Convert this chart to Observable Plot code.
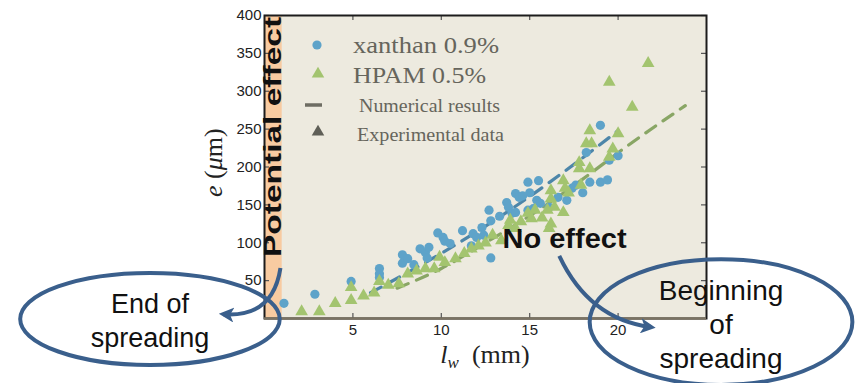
<!DOCTYPE html>
<html>
<head>
<meta charset="utf-8">
<script src="https://cdn.jsdelivr.net/npm/d3@7"></script>
<script src="https://cdn.jsdelivr.net/npm/@observablehq/plot@0.6"></script>
<style>
  body { margin: 0; background: #ffffff; }
  #chart { width: 859px; height: 383px; overflow: hidden; }
</style>
</head>
<body>
<div id="chart"></div>
<script>
// ---------------- data ----------------
const xanthanLw = [1.1, 2.85, 4.9, 6.5, 6.5, 6.5, 7.8, 7.8, 8.1, 8.45,
  8.8, 9.1, 9.3, 9.2, 9.8, 10.1, 10.2, 10.5, 11.2, 11.8, 11.7, 12.0, 12.3, 12.7, 12.8, 12.8, 12.4,
  13.7, 13.8, 14.2, 14.4, 14.0, 14.2, 14.9, 15.0, 15.2, 15.4,
  19.0, 18.2, 20.0, 19.5, 15.5, 17.6, 18.0, 18.4, 19.0, 19.4, 17.1, 17.4, 14.6, 15.6, 14.9, 16.1, 13.3, 16.6];
const xanthanE = [20, 32, 49, 66, 59, 54, 84, 73, 79, 71,
  92, 87, 94, 80, 113, 107, 102, 99, 116, 112, 96, 107, 120, 143, 129, 80, 110,
  153, 147, 165, 160, 139, 140, 180, 166, 145, 156,
  255, 219, 215, 209, 182, 176, 166, 180, 180, 183, 156, 172, 162, 152, 143, 147, 135, 160];

const hpamLw = [2.1, 3.1, 4.0, 4.9, 4.9, 5.6, 6.2, 6.5, 7.0, 7.6, 8.1,
  8.6, 9.1, 9.6, 9.9, 10.2, 10.8, 11.3, 11.7, 12.1, 12.5, 12.9, 13.4, 13.8, 14.2, 14.9, 15.3,
  18.4, 18.2, 18.5, 20.0, 17.8, 17.8, 18.4, 19.5, 19.7, 16.9, 17.0, 17.9, 17.2, 16.2, 16.2, 16.4, 16.9, 16.0,
  15.1, 15.7, 16.2, 16.1, 21.7, 19.5, 20.8, 14.5, 13.9];
const hpamE = [9, 9, 20, 24, 41, 30, 34, 49, 44, 46, 59,
  63, 66, 66, 81, 74, 79, 86, 92, 96, 100, 110, 103, 123, 119, 139, 143,
  248, 231, 231, 244, 206, 198, 198, 213, 224, 182, 172, 176, 166, 169, 158, 147, 140, 143,
  132, 133, 125, 119, 337, 312, 279, 128, 130];

const numXanthanLw = [6.0, 8.5, 11.0, 14.0, 16.9, 20.0];
const numXanthanE  = [34, 66, 100, 145, 193, 248];
const numHpamLw = [7.5, 10.0, 12.5, 15.3, 18.0, 20.3, 23.8];
const numHpamE  = [40, 66, 100, 140, 184, 224, 281];

const bandLw = [0, 1];          // "Potential effect" zone
const xTicks = [5, 10, 15, 20];
const yTicks = [50, 100, 150, 200, 250, 300, 350, 400];

const legendLabels = ["xanthan 0.9%", "HPAM 0.5%", "Numerical results", "Experimental data"];

// annotation anchors (data units)
const endNote   = {lw: -6.45, e: -1.3, rLw: 7.34, rE: 60.7, lines: ["End of", "spreading"]};
const beginNote = {lw: 25.85, e: -5.3, rLw: 7.43, rE: 83,   lines: ["Beginning", "of", "spreading"]};

// ---------------- chart ----------------
const blue = "#5ea3c9", green = "#a3c46f";
const blueDash = "#4d86a9", greenDash = "#89a665";
const W = 859, H = 383, mL = 264, mR = 153, mT = 15, mB = 65;
const pw = W - mL - mR, ph = H - mT - mB;

const xan = xanthanLw.map((d, i) => ({lw: d, e: xanthanE[i]}));
const hp  = hpamLw.map((d, i) => ({lw: d, e: hpamE[i]}));
const nx  = numXanthanLw.map((d, i) => ({lw: d, e: numXanthanE[i]}));
const nh  = numHpamLw.map((d, i) => ({lw: d, e: numHpamE[i]}));

const plot = Plot.plot({
  width: W, height: H,
  marginLeft: mL, marginRight: mR, marginTop: mT, marginBottom: mB,
  x: {domain: [0, 25]},
  y: {domain: [0, 400]},
  style: {fontFamily: "'Liberation Sans', Arial, sans-serif", fontSize: "15px", color: "#222", background: "transparent"},
  marks: [
    Plot.frame({fill: "#edeadf", stroke: null}),
    Plot.rect([{x1: bandLw[0], x2: bandLw[1]}], {x1: "x1", x2: "x2", y1: 0, y2: 400, fill: "#f8cba1"}),
    Plot.line(nx, {x: "lw", y: "e", stroke: blueDash, strokeWidth: 3.2, strokeDasharray: "12,9", curve: "monotone-x"}),
    Plot.line(nh, {x: "lw", y: "e", stroke: greenDash, strokeWidth: 3.2, strokeDasharray: "12,9", curve: "monotone-x"}),
    Plot.dot(xan, {x: "lw", y: "e", r: 4.6, fill: blue, stroke: null}),
    Plot.dot(hp, {x: "lw", y: "e", r: 4.7, symbol: "triangle", fill: green, stroke: null}),
    Plot.tickY(yTicks, {insetRight: pw - 5, stroke: "#555", strokeWidth: 1.2}),
    Plot.tickY(yTicks, {insetLeft: pw - 5, stroke: "#555", strokeWidth: 1.2}),
    Plot.tickX(xTicks, {insetBottom: ph - 5, stroke: "#555", strokeWidth: 1.2}),
    Plot.tickX(xTicks, {insetTop: ph - 5, stroke: "#555", strokeWidth: 1.2}),
    Plot.frame({stroke: "#1c1c1c", strokeWidth: 2}),
    Plot.ruleY([0], {stroke: "#7b7363", strokeWidth: 2.6}),
    Plot.axisY(yTicks, {tickSize: 0, tickPadding: 3, label: null, fontSize: 15}),
    Plot.axisX(xTicks, {tickSize: 0, tickPadding: 6, label: null, fontSize: 15})
  ]
});
document.getElementById("chart").appendChild(plot);

// ---------------- overlay: labels, legend, annotations ----------------
const sx = plot.scale("x"), sy = plot.scale("y");
const X = v => sx.apply(v), Y = v => sy.apply(v);
const svg = d3.select(plot);
const g = svg.append("g");
const serif = "'Liberation Serif', 'Times New Roman', serif";
const sans = "'Liberation Sans', Arial, sans-serif";
const ink = "#3a5f8c";

// axis labels
const xl = g.append("text").attr("x", X(12.5)).attr("y", H - 20).attr("text-anchor", "middle")
  .attr("font-family", serif).attr("font-size", 26).attr("fill", "#222");
xl.append("tspan").attr("font-style", "italic").text("l");
xl.append("tspan").attr("font-style", "italic").attr("font-size", 17).attr("dy", 5).text("w");
xl.append("tspan").attr("dy", -5).text("\u2002(mm)");

const yl = g.append("text").attr("transform", `translate(${X(0) - 42},${Y(205)}) rotate(-90)`)
  .attr("text-anchor", "middle").attr("font-family", serif).attr("font-size", 26).attr("fill", "#222");
yl.append("tspan").attr("font-style", "italic").text("e");
yl.append("tspan").text(" (");
yl.append("tspan").attr("font-style", "italic").text("\u03bc");
yl.append("tspan").text("m)");

// potential effect label
g.append("text").attr("transform", `translate(${X(0.5) + 8},${Y(239)}) rotate(-90)`)
  .attr("text-anchor", "middle").attr("font-family", sans).attr("font-weight", "bold")
  .attr("font-size", 23).attr("fill", "#111")
  .attr("textLength", 240).attr("lengthAdjust", "spacingAndGlyphs").text("Potential effect");

// legend (anchored to frame top-left)
const lx = X(0), ly = Y(400);
const lg = g.append("g").attr("transform", `translate(${lx},${ly})`);
lg.append("circle").attr("cx", 53).attr("cy", 30).attr("r", 4.6).attr("fill", blue);
lg.append("path").attr("d", d3.symbol(d3.symbolTriangle, 68)()).attr("transform", "translate(54,59)").attr("fill", green);
lg.append("line").attr("x1", 41).attr("x2", 58).attr("y1", 90).attr("y2", 90).attr("stroke", "#6e6d63").attr("stroke-width", 3.5);
lg.append("path").attr("d", d3.symbol(d3.symbolTriangle, 68)()).attr("transform", "translate(54,117)").attr("fill", "#5f5f57");
const legendY = [30, 60, 91, 120], legendX = [89, 89, 95, 93], legendFS = [24, 24, 18, 18];
const legendLen = [146, 133, 141, 147];
legendLabels.forEach((t, i) => {
  lg.append("text").attr("x", legendX[i]).attr("y", legendY[i]).attr("dy", "0.35em").attr("text-anchor", "start")
    .attr("font-family", serif).attr("font-size", legendFS[i]).attr("fill", "#66655c")
    .attr("textLength", legendLen[i]).attr("lengthAdjust", "spacingAndGlyphs").text(t);
});

// no effect
g.append("text").attr("x", X(17)).attr("y", Y(92)).attr("text-anchor", "middle")
  .attr("font-family", sans).attr("font-weight", "bold").attr("font-size", 27).attr("fill", "#111")
  .attr("textLength", 124).attr("lengthAdjust", "spacingAndGlyphs").text("No effect");

// arrow marker
const defs = svg.append("defs");
defs.append("marker").attr("id", "ah").attr("viewBox", "0 0 10 10").attr("refX", 7).attr("refY", 5)
  .attr("markerWidth", 15).attr("markerHeight", 15).attr("markerUnits", "userSpaceOnUse").attr("orient", "auto")
  .append("path").attr("d", "M0,0 L10,5 L0,10 L2.5,5 Z").attr("fill", ink);

function note(n, fs, lineH, baseOff) {
  const cx = X(n.lw), cy = Y(n.e);
  const rx = X(n.lw + n.rLw) - cx, ry = Y(n.e - n.rE) - cy;
  g.append("ellipse").attr("cx", cx).attr("cy", cy).attr("rx", rx).attr("ry", ry)
    .attr("fill", "none").attr("stroke", ink).attr("stroke-width", 4);
  n.lines.forEach((t, i) => {
    g.append("text").attr("x", cx).attr("y", cy + baseOff + i * lineH).attr("text-anchor", "middle")
      .attr("font-family", sans).attr("font-size", fs).attr("fill", "#111").text(t);
  });
}
note(endNote, 27, 34, -6);
note(beginNote, 28, 34, -22);

// arrows (anchors in data units)
const endArrow = [[0.93, 66], [0.5, 0], [-2.3, 5]];
const beginArrow = [[16.7, 82], [18.4, -2], [21.9, -12]];
[endArrow, beginArrow].forEach(a => {
  const [p0, p1, p2] = a.map(([u, v]) => [X(u), Y(v)]);
  g.append("path").attr("d", `M${p0}Q${p1} ${p2}`).attr("fill", "none")
    .attr("stroke", ink).attr("stroke-width", 4).attr("marker-end", "url(#ah)");
});
</script>
</body>
</html>
